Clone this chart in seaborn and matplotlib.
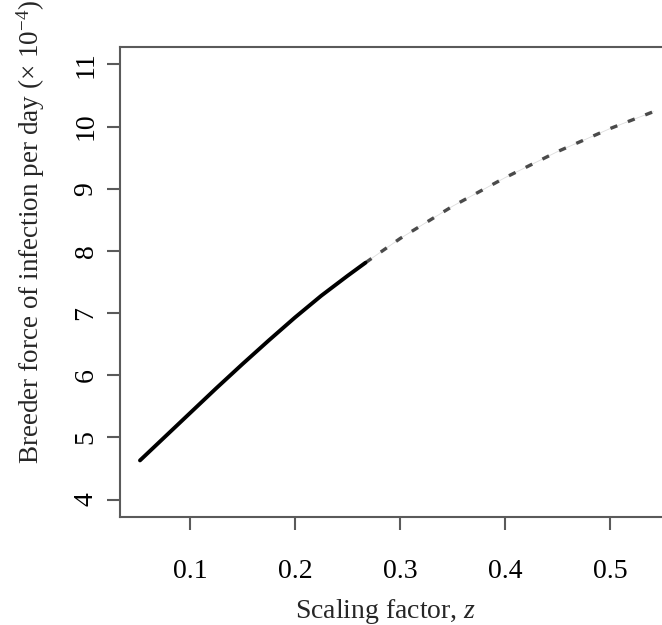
import matplotlib
matplotlib.use("Agg")
import matplotlib.pyplot as plt
import pandas as pd
import seaborn as sns

# ---- data ----
z_solid = [0.0525, 0.075, 0.100, 0.125, 0.150, 0.175, 0.200, 0.225, 0.250, 0.267]
foi_solid = [4.63, 4.99, 5.39, 5.79, 6.18, 6.56, 6.93, 7.28, 7.60, 7.81]
z_dashed = [0.267, 0.300, 0.350, 0.400, 0.450, 0.500, 0.541]
foi_dashed = [7.81, 8.20, 8.72, 9.18, 9.60, 9.97, 10.24]

x_ticks = [0.1, 0.2, 0.3, 0.4, 0.5]
x_tick_labels = ["0.1", "0.2", "0.3", "0.4", "0.5"]
y_ticks = [4, 5, 6, 7, 8, 9, 10, 11]
y_tick_labels = ["4", "5", "6", "7", "8", "9", "10", "11"]

x_label = r"Scaling factor, $z$"
y_label = r"Breeder force of infection per day (× 10$^{\mathrm{-4}}$)"

# ---- style ----
sns.set_style("white")
plt.rcParams["font.family"] = ["Liberation Serif", "DejaVu Serif"]
plt.rcParams["mathtext.fontset"] = "custom"
plt.rcParams["mathtext.rm"] = "Liberation Serif"
plt.rcParams["mathtext.it"] = "Liberation Serif:italic"

W, H = 662, 625
fig = plt.figure(figsize=(W / 100, H / 100), dpi=100)
ax = fig.add_axes([120 / W, 108 / H, (674 - 120) / W, (517 - 47) / H])

solid_df = pd.DataFrame({"z": z_solid, "foi": foi_solid})
dash_df = pd.DataFrame({"z": z_dashed, "foi": foi_dashed})

# faint connector under the dashes
sns.lineplot(data=dash_df, x="z", y="foi", ax=ax, color="#dddddd",
             linewidth=0.6, estimator=None, sort=False)
sns.lineplot(data=dash_df, x="z", y="foi", ax=ax, color="#4a4a4a",
             linewidth=2.4, estimator=None, sort=False)
ax.lines[-1].set_dashes((2.2, 3.4))
sns.lineplot(data=solid_df, x="z", y="foi", ax=ax, color="black",
             linewidth=2.8, estimator=None, sort=False)
ax.lines[-1].set_solid_capstyle("round")
ax.lines[-1].set_solid_joinstyle("round")

ax.set_xlim(0.0335, 0.5605)
ax.set_ylim(3.72, 11.28)

ax.set_xticks(x_ticks)
ax.set_xticklabels(x_tick_labels)
ax.set_yticks(y_ticks)
ax.set_yticklabels(y_tick_labels, rotation=90, va="center")

spine_col = "#5a5a5a"
for side in ["left", "top", "bottom"]:
    ax.spines[side].set_visible(True)
    ax.spines[side].set_color(spine_col)
    ax.spines[side].set_linewidth(1.5)
ax.spines["right"].set_visible(False)

ax.tick_params(axis="both", which="major", direction="out", length=9.4,
               width=1.5, color=spine_col, labelsize=20, labelcolor="black")
ax.tick_params(axis="x", pad=21, bottom=True)
ax.tick_params(axis="y", pad=6, left=True)

ax.set_xlabel("")
ax.set_ylabel("")
fig.text(386 / W, 1 - 618 / H, x_label, ha="center", va="baseline", fontsize=20)
fig.text(31 / W, 1 - 232 / H, y_label, rotation=90, ha="center", va="center",
         fontsize=19.5)

fig.savefig("out.png", dpi=100)
